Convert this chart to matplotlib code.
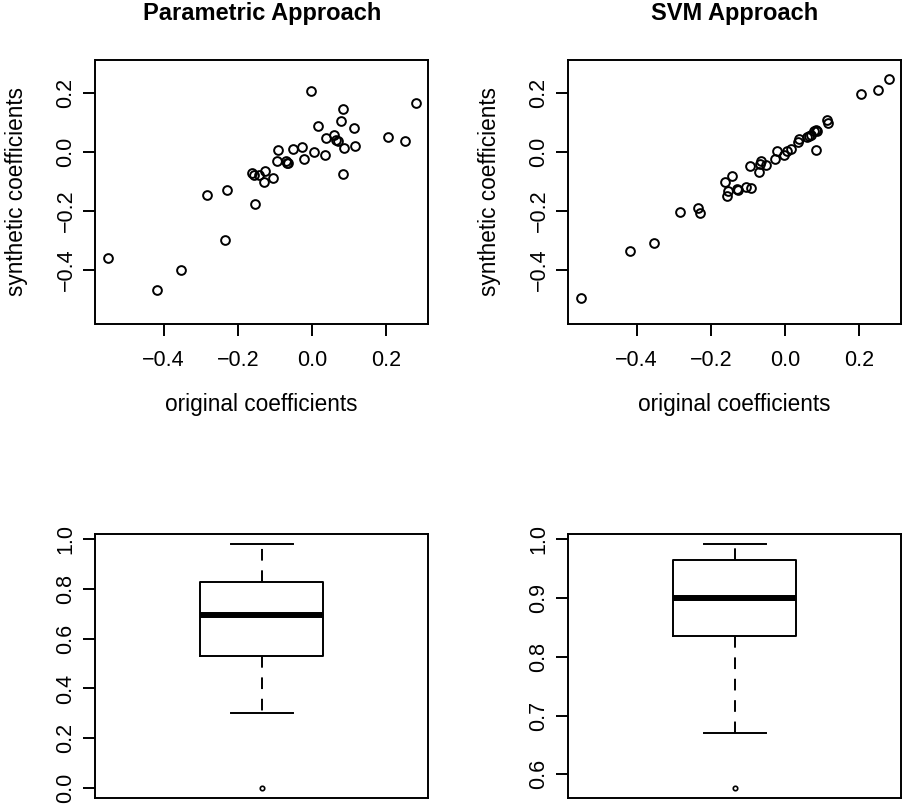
import matplotlib
matplotlib.use("Agg")
import matplotlib.pyplot as plt

plt.rcParams['font.family'] = ['Liberation Sans', 'DejaVu Sans']

# ---------------- data ----------------
original_coef = [-0.550, -0.417, -0.353, -0.283, -0.234, -0.228, -0.161, -0.156,
                 -0.153, -0.144, -0.129, -0.126, -0.104, -0.094, -0.092, -0.071,
                 -0.068, -0.064, -0.052, -0.026, -0.021, -0.003, 0.004, 0.016,
                 0.035, 0.037, 0.060, 0.064, 0.070, 0.078, 0.084, 0.084,
                 0.087, 0.114, 0.115, 0.205, 0.249, 0.279]
param_coef = [-0.360, -0.470, -0.401, -0.146, -0.301, -0.130, -0.073, -0.077,
              -0.177, -0.077, -0.103, -0.064, -0.089, -0.032, 0.005, -0.031,
              -0.038, -0.039, 0.011, 0.016, -0.025, 0.208, 0.001, 0.087,
              -0.010, 0.046, 0.058, 0.041, 0.038, 0.105, 0.146, -0.074,
              0.014, 0.081, 0.021, 0.051, 0.036, 0.166]
svm_coef = [-0.497, -0.337, -0.311, -0.205, -0.190, -0.207, -0.101, -0.149,
            -0.133, -0.082, -0.125, -0.128, -0.118, -0.047, -0.122, -0.067,
            -0.042, -0.031, -0.046, -0.023, 0.003, -0.011, 0.003, 0.011,
            0.034, 0.045, 0.051, 0.055, 0.059, 0.070, 0.006, 0.075,
            0.070, 0.108, 0.099, 0.196, 0.209, 0.249]

# boxplot summaries: lower whisker, Q1, median, Q3, upper whisker
param_box = [0.301, 0.531, 0.696, 0.830, 0.982]
param_outliers = [0.0]
svm_box = [0.670, 0.835, 0.900, 0.965, 0.9925]
svm_outliers = [0.577]

titles = ["Parametric Approach", "SVM Approach"]
scatter_ticks = [-0.4, -0.2, 0.0, 0.2]
param_box_ticks = [0.0, 0.2, 0.4, 0.6, 0.8, 1.0]
svm_box_ticks = [0.6, 0.7, 0.8, 0.9, 1.0]

# ---------------- layout ----------------
W, H = 904, 805
fig = plt.figure(figsize=(W / 100, H / 100), dpi=100)
LW = 1.4
TICK_FS = 15.5
LAB_FS = 16.3


def px_axes(x0, y0, x1, y1):
    return fig.add_axes([x0 / W, 1 - y1 / H, (x1 - x0) / W, (y1 - y0) / H])


def fmt(v):
    s = "%.1f" % v
    return s.replace("-", "\u2212")


def style(ax):
    for sp in ax.spines.values():
        sp.set_linewidth(LW)
    ax.tick_params(direction='out', length=8.6, width=LW, labelsize=TICK_FS)
    ax.tick_params(axis='x', pad=10.5)
    ax.tick_params(axis='y', pad=5)


def scatter_panel(x0, x1, yvals, title):
    ax = px_axes(x0, 60, x1, 323.5)
    ax.plot(original_coef, yvals, linestyle='none', marker='o', ms=6.3,
            mfc='none', mec='black', mew=LW)
    lo, hi = min(original_coef), max(original_coef)
    pad = 0.04 * (hi - lo)
    ax.set_xlim(lo - pad, hi + pad)
    ax.set_ylim(lo - pad, hi + pad)
    ax.set_xticks(scatter_ticks)
    ax.set_xticklabels([fmt(t) for t in scatter_ticks])
    ax.set_yticks(scatter_ticks)
    ax.set_yticklabels([fmt(t) for t in scatter_ticks], rotation=90, va='center')
    style(ax)
    cx = (x0 + x1) / 2
    fig.text(cx / W, 1 - 20 / H, title, ha='center', va='baseline',
             fontsize=17, fontweight='bold')
    fig.text(cx / W, 1 - 411 / H, "original coefficients", ha='center',
             va='baseline', fontsize=LAB_FS)
    fig.text((x0 - 79) / W, 1 - 191.7 / H, "synthetic coefficients", ha='center',
             va='center', rotation=90, fontsize=LAB_FS)
    return ax


def box_panel(x0, x1, stats, outliers, ticks):
    ax = px_axes(x0, 534, x1, 797.7)
    st = dict(whislo=stats[0], q1=stats[1], med=stats[2], q3=stats[3],
              whishi=stats[4], fliers=outliers)
    ax.bxp([st], positions=[1], widths=0.4, capwidths=0.2, manage_ticks=False,
           boxprops=dict(color='black', linewidth=LW),
           medianprops=dict(color='black', linewidth=4.3, solid_capstyle='butt'),
           whiskerprops=dict(color='black', linewidth=LW, linestyle=(0, (6, 5))),
           capprops=dict(color='black', linewidth=LW),
           flierprops=dict(marker='o', ms=3.2, mfc='none', mec='black', mew=1.2))
    allv = list(stats) + list(outliers)
    lo, hi = min(allv), max(allv)
    pad = 0.04 * (hi - lo)
    ax.set_ylim(lo - pad, hi + pad)
    ax.set_xlim(0.46, 1.54)
    ax.set_xticks([])
    ax.set_yticks(ticks)
    ax.set_yticklabels([fmt(t) for t in ticks], rotation=90, va='center')
    style(ax)
    return ax


scatter_panel(95.5, 428, param_coef, titles[0])
scatter_panel(568.5, 901, svm_coef, titles[1])
box_panel(95.5, 428, param_box, param_outliers, param_box_ticks)
box_panel(568.5, 901, svm_box, svm_outliers, svm_box_ticks)

fig.savefig("out.png", dpi=100)
